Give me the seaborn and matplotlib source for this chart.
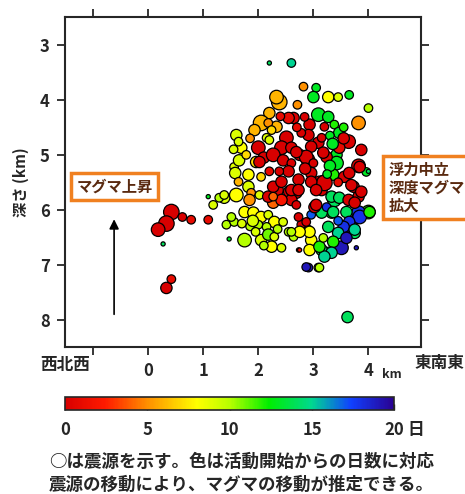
import numpy as np
import matplotlib
matplotlib.use("Agg")
import matplotlib.pyplot as plt
import seaborn as sns
from matplotlib.colors import LinearSegmentedColormap, Normalize
from matplotlib.cm import ScalarMappable

# --- data: hypocentres (east distance km, depth km, days since start, size class) ---
east_km = [2.2, 2.6, 3.62, 0.42, 0.33, 0.18, 0.62, 0.78, 1.09, 0.27, 0.33, 0.42, 1.09, 1.47,
           2.82, 3.05, 3.0, 3.27, 3.45, 3.65, 4.0, 2.71, 2.38, 2.33, 3.09, 3.27, 3.38, 3.47,
           3.82, 3.64, 3.87, 3.82, 3.42, 3.42, 3.96, 2.93, 2.84, 3.2, 3.09, 2.91, 2.64, 2.55,
           2.51, 3.15, 2.96, 2.42, 2.0, 2.9, 3.24, 3.47, 2.2, 2.05, 1.93, 2.33, 2.18, 1.6,
           1.69, 1.64, 2.6, 1.96, 2.15, 2.2, 2.24, 1.55, 1.56, 1.65, 1.78, 1.85, 2.1, 2.27,
           2.45, 2.6, 2.75, 2.78, 2.4, 2.7, 3.3, 3.55, 1.58, 1.82, 2.02, 1.64, 1.82, 1.38,
           1.6, 1.87, 1.84, 2.02, 2.33, 2.56, 2.69, 2.45, 2.27, 2.18, 2.6, 2.69, 2.27, 2.42,
           2.6, 2.73, 2.42, 2.27, 1.18, 1.29, 1.38, 1.42, 1.56, 1.75, 1.75, 1.91, 2.05, 2.18,
           2.29, 2.45, 1.51, 2.0, 2.15, 2.05, 2.18, 2.29, 2.24, 2.42, 2.55, 2.64, 2.73, 1.85,
           1.95, 2.1, 2.35, 1.7, 1.9, 2.96, 3.11, 3.36, 3.38, 3.56, 3.73, 3.82, 4.0, 3.82,
           3.69, 3.56, 3.75, 3.51, 3.29, 3.15, 2.96, 2.91, 2.78, 2.73, 2.96, 2.93, 2.91, 3.09,
           3.78, 3.27, 3.33, 3.15, 3.02, 3.15, 3.2, 2.87, 3.18, 3.65, 3.84, 3.69, 3.87, 4.0,
           3.2, 2.96, 2.73, 3.05, 3.33, 3.47, 3.64, 3.75, 3.05, 3.24, 3.36, 3.6, 3.84, 4.02,
           3.65, 3.55, 3.75, 3.45, 3.6, 3.36, 3.33, 3.2, 3.11, 2.93, 3.18, 2.75, 2.75, 2.87,
           3.11, 2.87, 2.6, 3.45, 2.69, 2.55, 2.85, 3.0, 2.38, 2.2, 2.05, 3.3, 3.25, 3.45,
           3.55, 3.35]
depth_km = [3.33, 3.33, 7.95, 6.04, 6.25, 6.36, 6.13, 6.18, 6.18, 6.62, 7.42, 7.26, 5.76, 6.53,
            3.76, 3.78, 3.95, 3.95, 3.95, 3.91, 4.15, 4.09, 4.04, 3.95, 4.27, 4.31, 4.45, 4.6,
            4.42, 4.76, 4.91, 5.2, 5.0, 5.15, 5.31, 4.45, 4.31, 4.49, 4.78, 4.64, 4.33, 4.33,
            4.69, 4.69, 4.85, 4.87, 4.87, 5.09, 5.04, 4.87, 4.24, 4.42, 4.55, 4.49, 4.42, 4.64,
            4.87, 4.76, 4.87, 5.13, 4.69, 4.73, 4.55, 4.9, 5.22, 5.1, 5.0, 4.7, 5.05, 5.0,
            5.1, 5.15, 5.0, 4.6, 4.3, 4.5, 4.65, 4.5, 5.33, 5.36, 5.13, 5.49, 5.58, 5.78,
            5.73, 5.69, 5.82, 5.73, 5.64, 5.67, 5.69, 5.87, 5.87, 5.76, 5.82, 5.91, 5.58, 5.49,
            5.64, 5.45, 5.82, 5.76, 5.91, 5.78, 5.73, 6.27, 6.22, 6.55, 6.04, 6.05, 6.13, 6.09,
            6.22, 6.22, 6.13, 6.27, 6.31, 6.55, 6.45, 6.49, 6.67, 6.69, 6.4, 6.49, 6.73, 6.3,
            6.4, 6.65, 6.35, 6.25, 6.2, 5.33, 5.51, 5.36, 5.82, 5.4, 5.58, 5.76, 6.04, 6.05,
            6.22, 6.36, 6.42, 6.69, 6.78, 6.73, 6.09, 6.36, 6.27, 6.13, 6.55, 6.73, 7.05, 7.05,
            6.69, 6.31, 6.05, 6.05, 5.95, 5.64, 5.49, 5.04, 4.96, 5.33, 5.22, 5.55, 5.67, 5.3,
            5.51, 5.49, 5.64, 5.64, 5.76, 5.78, 5.82, 5.87, 5.91, 5.95, 6.04, 6.04, 6.13, 6.04,
            6.22, 6.31, 6.36, 6.42, 6.51, 6.58, 6.78, 6.85, 6.67, 6.4, 6.51, 6.4, 6.73, 7.04,
            7.05, 6.22, 6.4, 6.2, 4.95, 5.3, 5.25, 5.15, 5.3, 5.3, 5.4, 5.2, 5.35, 5.5,
            4.7, 4.8]
days = [14, 15, 14, 0, 0, 0, 0, 1, 1, 14, 0, 1, 13, 13,
        5, 13, 13, 8, 9, 13, 10, 5, 6, 6, 13, 13, 12, 13,
        5, 0, 0, 0, 13, 13, 13, 0, 0, 0, 0, 0, 0, 1,
        0, 0, 0, 0, 0, 0, 0, 1, 6, 6, 6, 6, 5, 9,
        8, 9, 0, 7, 9, 9, 7, 9, 9, 9, 7, 5, 0, 0,
        0, 0, 0, 0, 1, 1, 13, 12, 9, 8, 0, 6, 9, 9,
        8, 5, 5, 9, 0, 0, 0, 18, 4, 0, 0, 0, 0, 0,
        0, 0, 2, 4, 9, 10, 9, 10, 10, 10, 8, 8, 8, 9,
        8, 9, 10, 10, 10, 9, 11, 9, 8, 9, 10, 10, 7, 10,
        9, 10, 10, 9, 9, 0, 0, 12, 14, 0, 0, 0, 12, 18,
        19, 19, 14, 19, 15, 14, 17, 10, 0, 0, 8, 8, 19, 9,
        19, 14, 13, 14, 0, 0, 0, 0, 0, 0, 0, 0, 0, 14,
        0, 0, 0, 0, 14, 14, 0, 0, 0, 18, 14, 14, 18, 12,
        18, 18, 15, 15, 19, 12, 15, 15, 12, 8, 10, 8, 2, 19,
        10, 0, 10, 17, 0, 0, 0, 0, 0, 1, 7, 13, 13, 1,
        0, 13]
mag = [1, 2, 3, 5, 5, 4, 2, 2, 2, 1, 3, 2, 1, 1,
       2, 2, 3, 3, 2, 2, 2, 2, 5, 4, 4, 3, 2, 3,
       4, 4, 3, 4, 3, 4, 2, 3, 2, 2, 3, 3, 3, 3,
       4, 2, 3, 4, 4, 4, 3, 3, 3, 5, 3, 3, 2, 3,
       3, 2, 3, 3, 2, 2, 2, 2, 2, 3, 2, 2, 3, 4,
       3, 2, 3, 2, 2, 2, 2, 2, 3, 3, 3, 2, 3, 3,
       4, 2, 3, 2, 4, 3, 3, 1, 3, 3, 3, 2, 3, 3,
       3, 3, 3, 2, 2, 2, 2, 2, 2, 4, 3, 3, 3, 2,
       3, 2, 2, 2, 2, 3, 3, 2, 3, 2, 2, 2, 1, 2,
       2, 2, 2, 2, 3, 3, 4, 3, 4, 3, 3, 3, 4, 4,
       3, 3, 3, 4, 3, 3, 2, 2, 2, 2, 3, 3, 2, 2,
       1, 3, 3, 3, 3, 3, 4, 4, 3, 3, 3, 3, 3, 1,
       5, 3, 3, 3, 3, 3, 3, 3, 3, 2, 3, 3, 4, 3,
       3, 3, 3, 3, 3, 3, 3, 3, 3, 3, 2, 3, 1, 2,
       2, 2, 2, 2, 3, 3, 3, 2, 2, 2, 2, 3, 2, 2,
       3, 3]

x_ticks = [-1, 0, 1, 2, 3, 4]
x_ticklabels = ["", "0", "1", "2", "3", "4"]
y_ticks = [3, 4, 5, 6, 7, 8]
cbar_ticks = [0, 5, 10, 15, 20]

sns.set_style("ticks")
plt.rcParams['font.family'] = ['Noto Sans CJK JP', 'DejaVu Sans']
plt.rcParams['font.weight'] = 'bold'

day_cmap = LinearSegmentedColormap.from_list("days", [
    (0.0, '#d80000'), (0.12, '#ff1a00'), (0.25, '#ff9000'), (0.4, '#ffff00'),
    (0.5, '#b8ff00'), (0.62, '#00ee00'), (0.75, '#00d890'), (0.87, '#1040ff'),
    (1.0, '#2a0090')])

fig = plt.figure(figsize=(4.65, 4.94), dpi=100)
ax = fig.add_axes([0.140, 0.298, 0.766, 0.668])

sns.scatterplot(x=east_km, y=depth_km, hue=days, size=mag, sizes=(9, 125),
                palette=day_cmap, hue_norm=(0, 20), edgecolor='black', linewidth=0.9,
                legend=False, ax=ax, zorder=3)

ax.set_xlim(-1.51, 4.96)
ax.set_ylim(8.49, 2.49)
ax.set_xticks(x_ticks)
ax.set_xticklabels(x_ticklabels)
ax.set_yticks(y_ticks)
ax.tick_params(axis='both', direction='out', length=6, width=1.3, labelsize=12,
               top=True, right=True, pad=5)
for lab in ax.get_xticklabels() + ax.get_yticklabels():
    lab.set_fontweight('bold')
for sp in ax.spines.values():
    sp.set_linewidth(1.5)
    sp.set_visible(True)
ax.set_xlabel("")
ax.set_ylabel("深さ (km)", fontsize=11, fontweight='bold', labelpad=8)

# arrow: magma ascent
ax.annotate("", xy=(-0.62, 6.12), xytext=(-0.62, 7.95),
            arrowprops=dict(arrowstyle='-|>', color='black', lw=1.2,
                            mutation_scale=14))

brown = '#5a2a10'
orange = '#f08020'
fig.text(0.247, 0.622, "マグマ上昇", fontsize=11, color=brown, ha='center', va='center',
         fontweight='bold',
         bbox=dict(boxstyle='square,pad=0.35', fc='white', ec=orange, lw=2.5))
fig.text(0.835, 0.620, "浮力中立\n深度マグマ\n拡大", fontsize=11, color=brown, ha='left',
         va='center', linespacing=1.15, fontweight='bold',
         bbox=dict(boxstyle='square,pad=0.35', fc='white', ec=orange, lw=2.5))

fig.text(0.140, 0.262, "西北西", fontsize=12, ha='center', va='center', fontweight='bold')
fig.text(0.944, 0.266, "東南東", fontsize=12, ha='center', va='center', fontweight='bold')
fig.text(0.843, 0.241, "km", fontsize=9, ha='center', va='center', fontweight='bold')

# colour bar
cax = fig.add_axes([0.140, 0.170, 0.708, 0.026])
sm = ScalarMappable(norm=Normalize(0, 20), cmap=day_cmap)
cb = fig.colorbar(sm, cax=cax, orientation='horizontal', ticks=cbar_ticks)
cb.outline.set_linewidth(1.2)
cax.tick_params(direction='in', length=4, width=1, labelsize=12, pad=8)
for lab in cax.get_xticklabels():
    lab.set_fontweight('bold')
fig.text(0.895, 0.130, "日", fontsize=12, ha='center', va='center', fontweight='bold')

fig.text(0.105, 0.065, "○は震源を示す。色は活動開始からの日数に対応", fontsize=12.6,
         ha='left', va='center', fontweight='bold')
fig.text(0.105, 0.018, "震源の移動により、マグマの移動が推定できる。", fontsize=12.6,
         ha='left', va='center', fontweight='bold')

fig.savefig("out.png", dpi=100)
